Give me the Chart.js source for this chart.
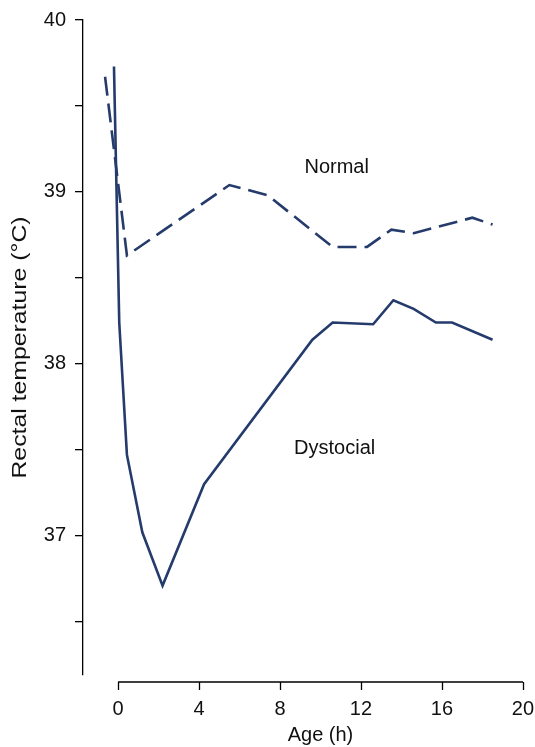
<!DOCTYPE html>
<html>
<head>
<meta charset="utf-8">
<script src="https://cdn.jsdelivr.net/npm/chart.js@4/dist/chart.umd.min.js"></script>
<style>
  body { margin: 0; background: #fff; }
  #wrap { width: 535px; height: 747px; }
</style>
</head>
<body>
<div id="wrap"><canvas id="myChart" width="535" height="747"></canvas></div>
<script>
// data
let normalAge = [-0.64, 0.44, 5.5, 7.4, 10.6, 12.3, 13.5, 14.6, 17.5, 18.5]
let normalTemp = [39.67, 38.63, 39.04, 38.98, 38.68, 38.68, 38.78, 38.76, 38.85, 38.81]

let dystAge = [-0.2, 0.06, 0.44, 1.2, 2.2, 4.25, 9.6, 10.6, 12.6, 13.6, 14.6, 15.7, 16.5, 18.5]
let dystTemp = [39.73, 38.24, 37.47, 37.02, 36.71, 37.30, 38.14, 38.24, 38.23, 38.37, 38.32, 38.24, 38.24, 38.14]

let ageTicks = [0, 4, 8, 12, 16, 20]
let tempTicks = [36.5, 37, 37.5, 38, 38.5, 39, 39.5, 40]
let tempLabels = ["", "37", "", "38", "", "39", "", "40"]

let noteText = ["Normal", "Dystocial"]
let noteAge = [10.8, 10.7]
let noteTemp = [39.14, 37.505]

let lineColor = "#243b6c"
let font = "Arial, 'Liberation Sans', sans-serif"

function toPoints(xs, ys) {
    return xs.map((x, i) => ({x: x, y: ys[i]}))
}

let axisPlugin = {
    id: "axisPlugin",
    afterDraw(chart) {
        let ctx = chart.ctx
        let x = chart.scales.x
        let y = chart.scales.y
        let area = chart.chartArea
        let yLine = area.bottom + 7
        ctx.save()
        ctx.strokeStyle = "#000"
        ctx.lineWidth = 1.3
        ctx.beginPath()
        ctx.moveTo(x.getPixelForValue(ageTicks[0]), yLine)
        ctx.lineTo(x.getPixelForValue(ageTicks[ageTicks.length - 1]), yLine)
        ageTicks.forEach(function (v) {
            let px = Math.round(x.getPixelForValue(v)) + 0.5
            ctx.moveTo(px, yLine)
            ctx.lineTo(px, yLine + 8)
        })
        ctx.stroke()

        ctx.fillStyle = "#111"
        ctx.font = `20px ${font}`
        ctx.textAlign = "center"
        ctx.textBaseline = "middle"
        ctx.fillText("Age (h)", x.getPixelForValue(10), 735)

        noteText.forEach(function (t, i) {
            ctx.fillText(t, x.getPixelForValue(noteAge[i]), y.getPixelForValue(noteTemp[i]))
        })

        // y title, stretched along the text like in the original
        ctx.translate(20, (area.top + area.bottom) / 2)
        ctx.rotate(-Math.PI / 2)
        ctx.scale(1.24, 1)
        ctx.fillText("Rectal temperature (°C)", 0, 0)
        ctx.restore()
    }
}

new Chart("myChart", {
    type: "line",
    data: {
        datasets: [{
            label: "Normal",
            data: toPoints(normalAge, normalTemp),
            borderColor: lineColor,
            borderWidth: 2.6,
            borderDash: [19, 8],
            pointRadius: 0,
            fill: false
        }, {
            label: "Dystocial",
            data: toPoints(dystAge, dystTemp),
            borderColor: lineColor,
            borderWidth: 2.6,
            pointRadius: 0,
            fill: false
        }]
    },
    options: {
        responsive: false,
        animation: false,
        devicePixelRatio: 1,
        layout: {padding: {top: 20, right: 8, left: 0, bottom: 0}},
        plugins: {
            legend: {display: false},
            tooltip: {enabled: false}
        },
        scales: {
            x: {
                type: "linear",
                min: -1.73,
                max: 20.2,
                afterBuildTicks: s => { s.ticks = ageTicks.map(v => ({value: v})) },
                afterFit: s => { s.height = 72; s.paddingLeft = 0; s.paddingRight = 0 },
                grid: {display: false, drawTicks: false},
                border: {display: false},
                ticks: {
                    color: "#111",
                    font: {size: 20, family: font},
                    padding: 22,
                    maxRotation: 0,
                    callback: v => String(v)
                }
            },
            y: {
                type: "linear",
                min: 36.19,
                max: 40,
                afterBuildTicks: s => { s.ticks = tempTicks.map(v => ({value: v})) },
                afterFit: s => { s.width = 83; s.paddingTop = 0; s.paddingBottom = 0 },
                grid: {drawOnChartArea: false, drawTicks: true, tickLength: 8, color: "#000", lineWidth: 1.3},
                border: {display: true, color: "#000", width: 1.3},
                ticks: {
                    color: "#111",
                    font: {size: 20, family: font},
                    padding: 9,
                    callback: function (v) {
                        let i = tempTicks.indexOf(v)
                        return i >= 0 ? tempLabels[i] : ""
                    }
                }
            }
        }
    },
    plugins: [axisPlugin]
});
</script>
</body>
</html>
